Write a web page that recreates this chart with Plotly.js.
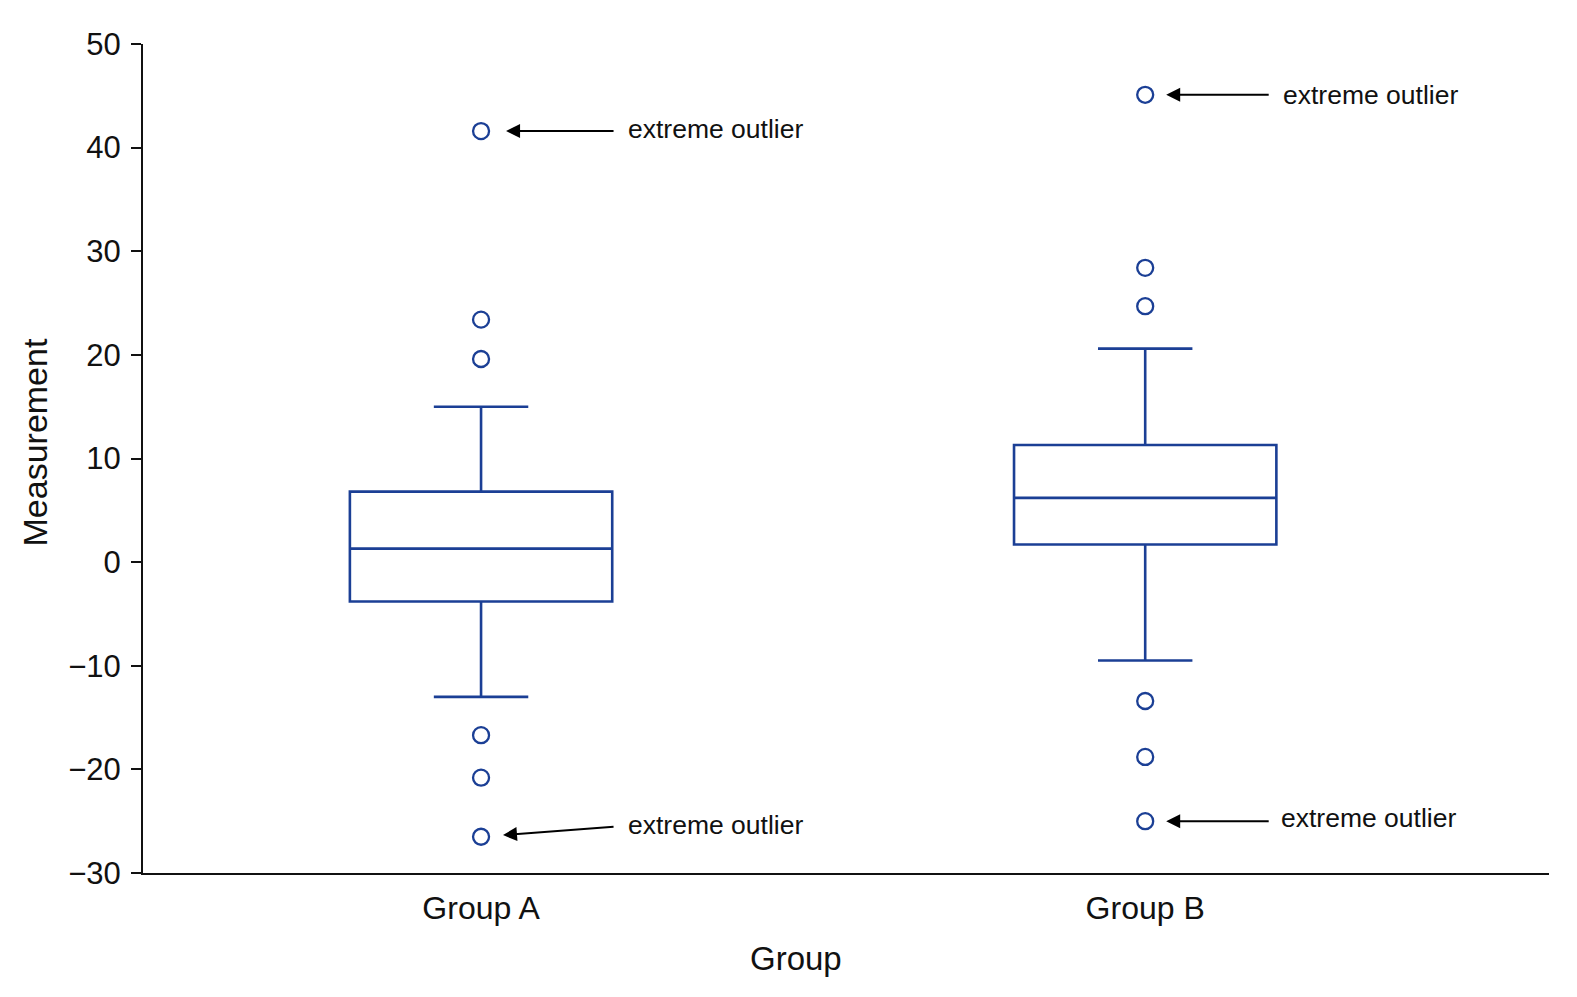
<!DOCTYPE html>
<html>
<head>
<meta charset="utf-8">
<script src="https://cdn.plot.ly/plotly-3.0.1.min.js"></script>
<style>html,body{margin:0;padding:0;background:#fff;}#chart{width:1577px;height:997px;}</style>
</head>
<body>
<div id="chart"></div>
<script>
// Data
const groups = ['Group A', 'Group B'];
const lowerWhisker = [-13.0, -9.5];
const q1Values = [-3.8, 1.7];
const medianValues = [1.3, 6.2];
const q3Values = [6.8, 11.3];
const upperWhisker = [15.0, 20.6];

const outliersA = [41.6, 23.4, 19.6, -16.7, -20.8, -26.5];
const outliersB = [45.1, 28.4, 24.7, -13.4, -18.8, -25.0];

const annotationText = 'extreme outlier';
const extremeA = [41.6, -26.5];
const extremeB = [45.1, -25.0];

const xTitle = 'Group';
const yTitle = 'Measurement';

const blue = '#1b3f95';
const fontFam = 'Liberation Sans, Arial, Helvetica, sans-serif';

const traces = [
  {
    type: 'box',
    x: groups,
    q1: q1Values,
    median: medianValues,
    q3: q3Values,
    lowerfence: lowerWhisker,
    upperfence: upperWhisker,
    boxpoints: false,
    width: 0.395,
    whiskerwidth: 0.36,
    line: {color: blue, width: 2.6},
    fillcolor: 'rgba(255,255,255,0)',
    showlegend: false,
    hoverinfo: 'skip'
  },
  {
    type: 'scatter',
    mode: 'markers',
    x: outliersA.map(() => groups[0]),
    y: outliersA,
    marker: {symbol: 'circle-open', size: 16, color: blue, line: {width: 2.3, color: blue}},
    showlegend: false,
    hoverinfo: 'skip'
  },
  {
    type: 'scatter',
    mode: 'markers',
    x: outliersB.map(() => groups[1]),
    y: outliersB,
    marker: {symbol: 'circle-open', size: 16, color: blue, line: {width: 2.3, color: blue}},
    showlegend: false,
    hoverinfo: 'skip'
  }
];

function arrow(xcat, yval, ax, ay, standoff) {
  return {
    x: xcat, y: yval, xref: 'x', yref: 'y',
    ax: ax, ay: ay, axref: 'pixel', ayref: 'pixel',
    text: '', showarrow: true,
    arrowhead: 2, arrowsize: 1.4, arrowwidth: 2, arrowcolor: '#000',
    standoff: standoff
  };
}
function label(xcat, yval, xshift, yshift) {
  return {
    x: xcat, y: yval, xref: 'x', yref: 'y',
    text: annotationText, showarrow: false,
    xanchor: 'left', yanchor: 'middle',
    xshift: xshift, yshift: yshift,
    font: {family: fontFam, size: 26.5, color: '#111'}
  };
}

const annotations = [
  arrow(groups[0], extremeA[0], 134, 0, 25),
  label(groups[0], extremeA[0], 145, 2),
  arrow(groups[0], extremeA[1], 134, -10, 22),
  label(groups[0], extremeA[1], 145, 12),
  arrow(groups[1], extremeB[0], 125, 0, 21),
  label(groups[1], extremeB[0], 136, 0),
  arrow(groups[1], extremeB[1], 125, 0, 21),
  label(groups[1], extremeB[1], 134, 3),
  {
    xref: 'paper', yref: 'paper', x: 0.4645, y: -0.103,
    xanchor: 'center', yanchor: 'middle', showarrow: false,
    text: xTitle, font: {family: fontFam, size: 33, color: '#111'}
  },
  {
    xref: 'paper', yref: 'paper', x: -0.077, y: 0.519,
    xanchor: 'center', yanchor: 'middle', showarrow: false, textangle: -90,
    text: yTitle, font: {family: fontFam, size: 34, color: '#111'}
  }
];

const layout = {
  width: 1577,
  height: 997,
  paper_bgcolor: '#ffffff',
  plot_bgcolor: '#ffffff',
  margin: {l: 143, r: 28, t: 44, b: 124},
  font: {family: fontFam, color: '#111'},
  showlegend: false,
  xaxis: {
    type: 'category',
    range: [-0.509, 1.608],
    showline: true, linecolor: '#111', linewidth: 2,
    ticks: '', showgrid: false, zeroline: false,
    ticklabelstandoff: 6,
    tickfont: {size: 32, family: fontFam, color: '#111'}
  },
  yaxis: {
    range: [-30, 50],
    dtick: 10, tick0: 0,
    showline: true, linecolor: '#111', linewidth: 2,
    ticks: 'outside', ticklen: 10, tickwidth: 2, tickcolor: '#111',
    showgrid: false, zeroline: false,
    ticklabelstandoff: 4,
    tickfont: {size: 31, family: fontFam, color: '#111'}
  },
  annotations: annotations
};

Plotly.newPlot('chart', traces, layout, {displayModeBar: false, staticPlot: true});
</script>
</body>
</html>
